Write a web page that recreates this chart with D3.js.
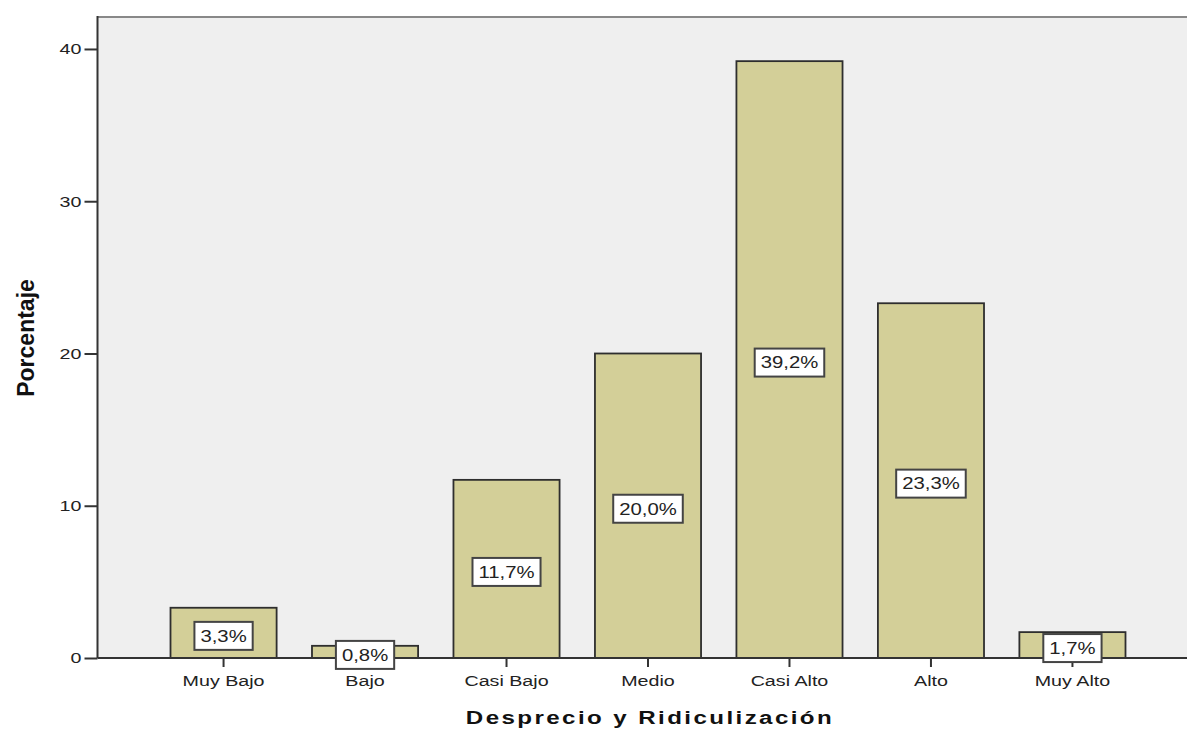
<!DOCTYPE html>
<html>
<head>
<meta charset="utf-8">
<script src="https://cdn.jsdelivr.net/npm/d3@7"></script>
<style>
    body { margin: 0; background: #fff; }
    text { font-family: "Liberation Sans", Arial, sans-serif; fill: #222; }
</style>
</head>
<body>
<svg id="chart"></svg>
<script>
// data
var categories = ["Muy Bajo", "Bajo", "Casi Bajo", "Medio", "Casi Alto", "Alto", "Muy Alto"];
var percents = [3.3, 0.8, 11.7, 20.0, 39.2, 23.3, 1.7];
var yTicks = [0, 10, 20, 30, 40];

var width = 1187, height = 729;
var stretch = 1.27; // the original picture is stretched sideways

var svg = d3.select("#chart")
    .attr("width", width)
    .attr("height", height);

var plotLeft = 97.5, plotRight = 1198.5, plotTop = 17, plotBottom = 658;

var x = d3.scaleBand()
    .domain(categories)
    .range([plotLeft, plotRight])
    .paddingInner(0.25)
    .paddingOuter(0.516);

var y = d3.scaleLinear()
    .domain([0, 42.1])
    .range([plotBottom, plotTop]);

// plot background
svg.append("rect")
    .attr("x", plotLeft)
    .attr("y", plotTop)
    .attr("width", width - plotLeft)
    .attr("height", plotBottom - plotTop)
    .style("fill", "#efefef");

// top border
svg.append("line")
    .attr("x1", plotLeft).attr("x2", width)
    .attr("y1", plotTop).attr("y2", plotTop)
    .style("stroke", "#888")
    .style("stroke-width", 2);

// bars
var data = categories.map(function (c, i) { return { cat: c, value: percents[i] }; });

svg.selectAll(".bar")
    .data(data)
    .enter().append("rect")
    .attr("class", "bar")
    .attr("x", function (d) { return x(d.cat); })
    .attr("y", function (d) { return y(d.value); })
    .attr("width", x.bandwidth())
    .attr("height", function (d) { return y(0) - y(d.value); })
    .style("fill", "#d3cf98")
    .style("stroke", "#2e2e2e")
    .style("stroke-width", 1.8);

// y axis
var yAxis = svg.append("g")
    .attr("transform", "translate(" + plotLeft + ",0)")
    .call(d3.axisLeft(y).tickValues(yTicks).tickSize(13).tickSizeOuter(0));
yAxis.select(".domain").remove();
yAxis.selectAll(".tick line").style("stroke", "#333").style("stroke-width", 2);
yAxis.selectAll(".tick text")
    .attr("x", -16 / stretch)
    .attr("dy", "0.32em")
    .attr("transform", "scale(" + stretch + ",1)")
    .style("font-size", "15.5px")
    .style("font-family", "'Liberation Sans', Arial, sans-serif")
    .style("fill", "#222");

svg.append("line")
    .attr("x1", plotLeft).attr("x2", plotLeft)
    .attr("y1", plotTop - 1).attr("y2", plotBottom)
    .style("stroke", "#333")
    .style("stroke-width", 2);

// x axis
var xAxis = svg.append("g")
    .attr("transform", "translate(0," + plotBottom + ")")
    .call(d3.axisBottom(x).tickSize(9).tickSizeOuter(0));
xAxis.select(".domain").remove();
xAxis.selectAll(".tick line").style("stroke", "#333").style("stroke-width", 2);
xAxis.selectAll(".tick text")
    .attr("y", 28)
    .attr("dy", 0)
    .attr("transform", "scale(" + stretch + ",1)")
    .style("font-size", "15.5px")
    .style("font-family", "'Liberation Sans', Arial, sans-serif")
    .style("fill", "#222");

svg.append("line")
    .attr("x1", plotLeft).attr("x2", width)
    .attr("y1", plotBottom).attr("y2", plotBottom)
    .style("stroke", "#333")
    .style("stroke-width", 2);

// value labels in white boxes
var labels = svg.selectAll(".lbl")
    .data(data)
    .enter().append("g")
    .attr("class", "lbl")
    .attr("transform", function (d) {
        var cx = x(d.cat) + x.bandwidth() / 2;
        var cy = (y(d.value) + y(0)) / 2 + 3;
        return "translate(" + cx + "," + cy + ")";
    });

labels.each(function (d) {
    var g = d3.select(this);
    var box = g.append("rect");
    var t = g.append("text")
        .attr("text-anchor", "middle")
        .attr("dy", "0.36em")
        .attr("transform", "scale(" + stretch + ",1)")
        .style("font-size", "16px")
        .text(d3.format(".1f")(d.value).replace(".", ",") + "%");
    var w = t.node().getComputedTextLength() * stretch + 12;
    box.attr("x", -w / 2)
        .attr("y", -14)
        .attr("width", w)
        .attr("height", 28)
        .style("fill", "#fff")
        .style("stroke", "#444")
        .style("stroke-width", 2);
});

// axis titles
svg.append("text")
    .attr("text-anchor", "middle")
    .attr("transform", "translate(" + 650 + ",724) scale(" + stretch + ",1)")
    .style("font-size", "19px")
    .style("font-weight", "bold")
    .style("letter-spacing", "1.9px")
    .style("fill", "#111")
    .text("Desprecio y Ridiculización");

svg.append("text")
    .attr("text-anchor", "middle")
    .attr("transform", "translate(34,338) rotate(-90)")
    .style("font-size", "23px")
    .style("font-weight", "bold")
    .style("fill", "#111")
    .text("Porcentaje");
</script>
</body>
</html>
